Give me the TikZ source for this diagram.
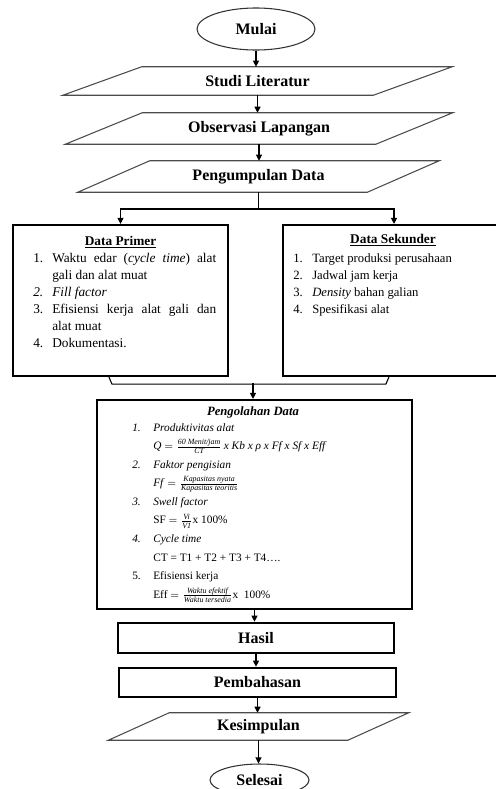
\documentclass[tikz,border=0pt]{standalone}
\usepackage{fontspec}
\setmainfont{Liberation Serif}
\usepackage{amsmath}
\usepackage{array}
\usetikzlibrary{shapes.geometric,arrows.meta,calc}

\tikzset{
  terminal/.style={ellipse, draw=black!80, line width=0.8pt, inner sep=0pt, font=\fontsize{12}{14}\selectfont\bfseries},
  miring/.style={rectangle, inner sep=0pt, font=\fontsize{12}{14}\selectfont\bfseries},
  sisi/.style={draw=black!70, line width=0.8pt},
  kotak/.style={rectangle, draw, line width=1.6pt, inner sep=0pt},
  tebal/.style={rectangle, draw, line width=2pt, inner sep=0pt, font=\fontsize{12}{14}\selectfont\bfseries},
  judul/.style={inner sep=0pt, font=\fontsize{10}{12}\selectfont\bfseries},
  isi/.style={anchor=base west, inner sep=0pt},
  panah/.style={-{Triangle[length=4.5pt,width=4.5pt]}, line width=0.8pt},
  garis/.style={line width=0.8pt},
}
% jajaran genjang di sekitar node: #1 nama node, #2 geser (px)
\newcommand{\jajargenjang}[2]{\draw[sisi] ($(#1.north west)+(#2/2,0)$) -- ($(#1.north east)+(#2/2,0)$) -- ($(#1.south east)-(#2/2,0)$) -- ($(#1.south west)-(#2/2,0)$) -- cycle;}

\begin{document}
\begin{tikzpicture}[x=0.75pt,y=-0.75pt]
	%%%%% ukuran dalam px %%%%%
	\def\px{0.75pt}
	\useasboundingbox (0,0) rectangle (496,789);
	
	\node[terminal, minimum width=118*\px, minimum height=42*\px] (mulai) at (256,29) {Mulai};
	\node[miring, minimum width=310*\px, minimum height=28*\px] (studi) at (257.5,81) {Studi Literatur};
	\jajargenjang{studi}{79}
	\node[miring, minimum width=310*\px, minimum height=31*\px] (observasi) at (259,128.5) {Observasi Lapangan};
	\jajargenjang{observasi}{77}
	\node[miring, minimum width=289*\px, minimum height=31*\px] (kumpul) at (258.5,176.5) {Pengumpulan Data};
	\jajargenjang{kumpul}{72}
	\coordinate (cabang) at (258.5,209);
	
	%data primer dan sekunder
	\node[kotak, minimum width=215*\px, minimum height=151*\px] (primer) at (120.5,300.5) {};
	\node[kotak, minimum width=222*\px, minimum height=151*\px] (sekunder) at (394,300.5) {};
	\node[judul] (primerjudul) at (120.5,242) {\underline{Data Primer}};
	\node[isi, font=\fontsize{10}{12.75}\selectfont] (primerisi) at (33,262) {%
		\begin{tabular}[t]{@{}p{14.25pt}@{}p{123pt}@{}}
			1. & Waktu edar (\textit{cycle time}) alat\linebreak gali dan alat muat\\
			\textit{2.} & \textit{Fill factor}\\
			3. & Efisiensi kerja alat gali dan\linebreak alat muat\\
			4. & Dokumentasi.
		\end{tabular}};
	\node[judul] (sekunderjudul) at (393,240) {\underline{Data Sekunder}};
	\node[isi, font=\fontsize{9.5}{12.75}\selectfont] (sekunderisi) at (293,262) {%
		\begin{tabular}[t]{@{}p{14.25pt}@{}l@{}}
			1. & Target produksi perusahaan\\
			2. & Jadwal jam kerja\\
			3. & \textit{Density} bahan galian\\
			4. & Spesifikasi alat
		\end{tabular}};
	
	%pengolahan data
	\coordinate (gabung) at (253,383);
	\node[kotak, minimum width=315*\px, minimum height=209*\px] (olah) at (254.5,504.5) {};
	\node[judul, font=\fontsize{9.5}{11}\selectfont\bfseries\itshape] (olahjudul) at (253,412) {Pengolahan Data};
	\node[isi, font=\fontsize{8.5}{13.9}\selectfont] (olahisi) at (132,431) {%
		\begin{tabular}[t]{@{}p{15.75pt}@{}l@{}}
			\textit{1.} & \textit{Produktivitas alat}\\
			& \textit{Q} $=\frac{\text{\itshape 60 Menit/jam}}{\text{\itshape CT}}$\,\textit{x Kb x ρ x Ff x Sf x Eff}\\
			\textit{2.} & \textit{Faktor pengisian}\\
			& \textit{Ff} $=\frac{\text{\itshape Kapasitas nyata}}{\text{\itshape Kapasitas teoritis}}$\\
			\textit{3.} & \textit{Swell factor}\\
			& SF $=\frac{\text{\itshape Vi}}{\text{\itshape V1}}$x 100\%\\
			\textit{4.} & \textit{Cycle time}\\
			& CT = T1 + T2 + T3 + T4….\\
			5. & Efisiensi kerja\\
			& Eff $=\frac{\text{\itshape Waktu efektif}}{\text{\itshape Waktu tersedia}}$x\ \ 100\%
		\end{tabular}};
	
	\node[tebal, minimum width=276*\px, minimum height=30*\px] (hasil) at (256,638) {Hasil};
	\node[tebal, minimum width=277*\px, minimum height=29*\px] (bahas) at (257.5,682.5) {Pembahasan};
	\node[miring, minimum width=239*\px, minimum height=27*\px] (simpul) at (258.5,726.5) {Kesimpulan};
	\jajargenjang{simpul}{61}
	\node[terminal, minimum width=99*\px, minimum height=32*\px] (selesai) at (259.5,780) {Selesai};
	
	%panah
	\draw[panah] (mulai.south) -- (mulai.south |- studi.north);
	\draw[panah] (studi.south) -- (studi.south |- observasi.north);
	\draw[panah] (observasi.south) -- (observasi.south |- kumpul.north);
	\draw[garis] (kumpul.south) -- (cabang);
	\draw[panah] (cabang) -| (primer.north);
	\draw[panah] (cabang) -| (sekunder.north);
	\draw[garis] ($(primer.south west)+(97,0)$) -- ($(primer.south west)+(100,7)$) -- ($(sekunder.south west)+(104,7)$) -- ($(sekunder.south west)+(107,0)$);
	\draw[panah] (gabung) -- (gabung |- olah.north);
	\draw[panah] (olah.south) -- (olah.south |- hasil.north);
	\draw[panah] (hasil.south) -- (hasil.south |- bahas.north);
	\draw[panah] (bahas.south) -- (bahas.south |- simpul.north);
	\draw[panah] (simpul.south) -- (simpul.south |- selesai.north);
\end{tikzpicture}
\end{document}
